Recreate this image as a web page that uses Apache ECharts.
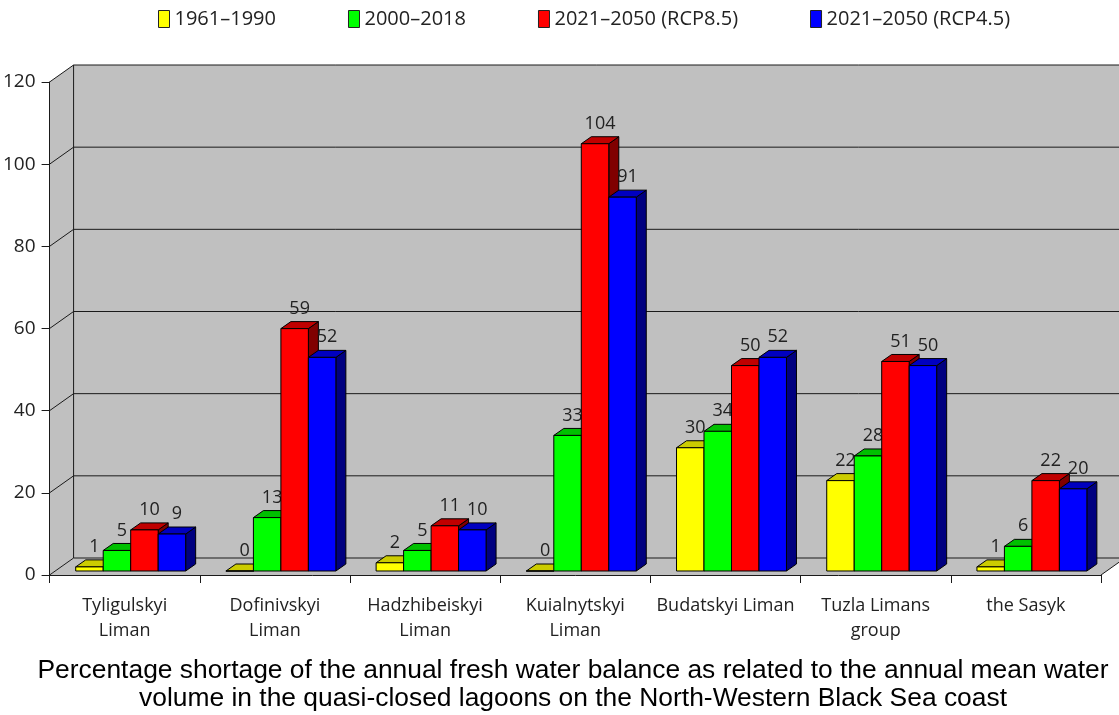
<!DOCTYPE html>
<html>
<head>
<meta charset="utf-8">
<script src="https://cdn.jsdelivr.net/npm/echarts@6/dist/echarts.min.js"></script>
<style>
html, body { margin: 0; padding: 0; background: #fff; }
#main { width: 1119px; height: 715px; }
</style>
</head>
<body>
<div id="main"></div>
<script>
var categories = ['Tyligulskyi\nLiman', 'Dofinivskyi\nLiman', 'Hadzhibeiskyi\nLiman', 'Kuialnytskyi\nLiman',
	'Budatskyi Liman', 'Tuzla Limans\ngroup', 'the Sasyk'];
var seriesNames = ['1961\u20131990', '2000\u20132018', '2021\u20132050 (RCP8.5)', '2021\u20132050 (RCP4.5)'];
var values1961 = [1, 0, 2, 0, 30, 22, 1];
var values2000 = [5, 13, 5, 33, 34, 28, 6];
var valuesRcp85 = [10, 59, 11, 104, 50, 51, 22];
var valuesRcp45 = [9, 52, 10, 91, 52, 50, 20];
var yTicks = [0, 20, 40, 60, 80, 100, 120];
var titleLines = ['Percentage shortage of the annual fresh water balance as related to the annual mean water',
	'volume in the quasi-closed lagoons on the North-Western Black Sea coast'];

var allValues = [values1961, values2000, valuesRcp85, valuesRcp45];
var frontColors = ['#ffff00', '#00ff00', '#ff0000', '#0000ff'];
var topColors = ['#cccc00', '#00c000', '#c00000', '#0000c0'];
var sideColors = ['#8a8a00', '#007000', '#800000', '#000080'];

// 3D look: depth of the walls and of the bars
var WALL_DX = 24, WALL_DY = -17;
var BAR_OX = 6, BAR_OY = -4;
var BAR_DX = 10, BAR_DY = -7;
var FONT = 'Open Sans';

function renderWalls(params, api) {
	var band = api.size([1, 0])[0];
	var p0 = api.coord([0, 0]);
	var left = p0[0] - band / 2;
	var right = left + band * categories.length;
	var yb = p0[1];
	var yt = api.coord([0, yTicks[yTicks.length - 1]])[1];
	var fill = { fill: '#c0c0c0', stroke: null };
	var line = { stroke: '#1a1a1a', lineWidth: 1 };
	var ch = [];
	//floor, left wall, back wall
	ch.push({ type: 'polygon', shape: { points: [[left, yb], [right, yb], [right + WALL_DX, yb + WALL_DY], [left + WALL_DX, yb + WALL_DY]] }, style: fill });
	ch.push({ type: 'polygon', shape: { points: [[left, yb], [left, yt], [left + WALL_DX, yt + WALL_DY], [left + WALL_DX, yb + WALL_DY]] }, style: fill });
	ch.push({ type: 'rect', shape: { x: left + WALL_DX, y: yt + WALL_DY, width: right - left, height: yb - yt }, style: fill });
	for (var i = 0; i < yTicks.length; i++) {
		var y = api.coord([0, yTicks[i]])[1];
		ch.push({ type: 'line', shape: { x1: left + WALL_DX, y1: y + WALL_DY, x2: right + WALL_DX, y2: y + WALL_DY }, style: line });
		ch.push({ type: 'line', shape: { x1: left, y1: y, x2: left + WALL_DX, y2: y + WALL_DY }, style: line });
	}
	ch.push({ type: 'line', shape: { x1: left + WALL_DX, y1: yt + WALL_DY, x2: left + WALL_DX, y2: yb + WALL_DY }, style: line });
	ch.push({ type: 'line', shape: { x1: right, y1: yb, x2: right + WALL_DX, y2: yb + WALL_DY }, style: line });
	return { type: 'group', children: ch };
}

function makeBarRenderer(si) {
	return function (params, api) {
		var ci = api.value(0);
		var v = api.value(1);
		var band = api.size([1, 0])[0];
		var bw = band * 0.183;
		var base = api.coord([ci, 0]);
		var top = api.coord([ci, v]);
		var x0 = base[0] - 2 * bw + si * bw + BAR_OX;
		var y0 = base[1] + BAR_OY;
		var y1 = top[1] + BAR_OY;
		return {
			type: 'group',
			children: [
				{ type: 'polygon', shape: { points: [[x0 + bw, y1], [x0 + bw + BAR_DX, y1 + BAR_DY], [x0 + bw + BAR_DX, y0 + BAR_DY], [x0 + bw, y0]] },
					style: { fill: sideColors[si], stroke: '#000', lineWidth: 1 } },
				{ type: 'polygon', shape: { points: [[x0, y1], [x0 + bw, y1], [x0 + bw + BAR_DX, y1 + BAR_DY], [x0 + BAR_DX, y1 + BAR_DY]] },
					style: { fill: topColors[si], stroke: '#000', lineWidth: 1 } },
				{ type: 'rect', shape: { x: x0, y: y1, width: bw, height: y0 - y1 },
					style: { fill: frontColors[si], stroke: '#000', lineWidth: 1 } },
				{ type: 'text', x: x0 + bw / 2 + BAR_DX / 2, y: y1 + BAR_DY - 4,
					style: { text: String(v), fill: '#222', font: '18px "' + FONT + '"', align: 'center', verticalAlign: 'bottom' } }
			]
		};
	};
}

var chart = echarts.init(document.getElementById('main'));

var series = [{
	type: 'custom',
	name: 'walls',
	z: -1,
	silent: true,
	renderItem: renderWalls,
	data: [[0]]
}];
for (var s = 0; s < 4; s++) {
	var d = [];
	for (var c = 0; c < categories.length; c++) {
		d.push([c, allValues[s][c]]);
	}
	series.push({
		type: 'custom',
		name: seriesNames[s],
		itemStyle: { color: frontColors[s], borderColor: '#000', borderWidth: 1 },
		renderItem: makeBarRenderer(s),
		encode: { x: 0, y: 1 },
		data: d
	});
}

var option = {
	backgroundColor: '#fff',
	animation: false,
	legend: {
		data: seriesNames,
		left: 153,
		top: 4,
		icon: 'rect',
		itemWidth: 11,
		itemHeight: 17,
		itemGap: 72,
		itemStyle: { borderColor: '#222', borderWidth: 1 },
		textStyle: { fontFamily: FONT, fontSize: 20, color: '#222' }
	},
	grid: { left: 49, right: 18, top: 82, bottom: 140, containLabel: false },
	xAxis: {
		type: 'category',
		data: categories,
		axisLine: { show: true, lineStyle: { color: '#1a1a1a', width: 1 } },
		axisTick: { show: true, length: 8, interval: 0, lineStyle: { color: '#1a1a1a' } },
		axisLabel: { interval: 0, margin: 18, fontFamily: FONT, fontSize: 18, lineHeight: 25, color: '#222' },
		splitLine: { show: false }
	},
	yAxis: {
		type: 'value',
		min: 0,
		max: 120,
		interval: 20,
		axisLine: { show: true, lineStyle: { color: '#1a1a1a', width: 1 } },
		axisTick: { show: true, length: 8, lineStyle: { color: '#1a1a1a' } },
		axisLabel: { margin: 14, fontFamily: FONT, fontSize: 19, color: '#222' },
		splitLine: { show: false }
	},
	graphic: [{
		type: 'text',
		x: 573,
		y: 685,
		style: { text: titleLines.join('\n'), font: '26.4px "Liberation Sans"', fill: '#000', align: 'center', verticalAlign: 'middle', lineHeight: 28 }
	}],
	series: series
};
chart.setOption(option);
</script>
</body>
</html>
